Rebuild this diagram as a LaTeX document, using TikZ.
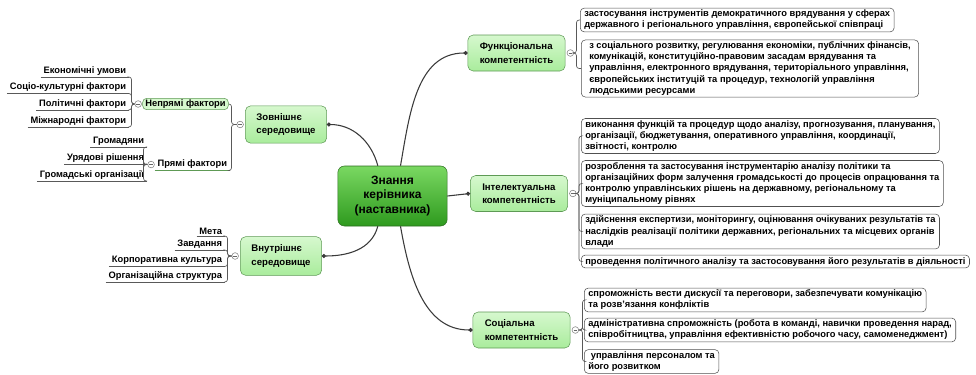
\documentclass[tikz,border=0pt]{standalone}
\usepackage{fontspec}
\setmainfont{Liberation Sans}
\usetikzlibrary{arrows.meta,positioning}

\definecolor{coredark}{HTML}{2E9A1E}
\definecolor{corelight}{HTML}{7AD862}
\definecolor{coreedge}{HTML}{2C6E20}
\definecolor{topicfill}{HTML}{A9EC9C}
\definecolor{topiclight}{HTML}{D6F8CE}
\definecolor{topicedge}{HTML}{5E9A55}
\definecolor{lineclr}{HTML}{3A3A3A}
\definecolor{detailedge}{HTML}{505050}

\begin{document}
\begin{tikzpicture}[
    x=0.75pt, y=-0.75pt,
    font=\bfseries\fontsize{7}{8.3}\selectfont,
    core/.style={draw=coreedge, rounded corners=5pt, top color=corelight, bottom color=coredark,
      minimum width=82pt, minimum height=45pt, align=center, font=\bfseries\fontsize{9}{11.2}\selectfont},
    topic/.style={draw=topicedge, rounded corners=4pt, top color=topiclight, bottom color=topicfill,
      minimum width=73pt, minimum height=27pt, align=left, font=\bfseries\fontsize{7.2}{10}\selectfont},
    subtopic/.style={draw=topicedge, rounded corners=3pt, fill=topiclight, inner xsep=2pt, inner ysep=1pt},
    detail/.style={draw=detailedge, rounded corners=3pt, fill=white, align=left, anchor=west,
      inner xsep=3pt, inner ysep=1.5pt},
    leaf/.style={anchor=south east, inner xsep=2pt, inner ysep=1pt},
    collapse/.style={circle, draw=gray, fill=white, minimum size=5pt, inner sep=0pt,
      path picture={\draw[gray!80!black, line width=0.4pt]
        ([xshift=-1.3pt]path picture bounding box.center) -- ([xshift=1.3pt]path picture bounding box.center);}},
    link/.style={draw=lineclr, line width=0.8pt, -{Circle[length=3pt]}},
    brk/.style={draw=gray!70!black, line width=0.5pt, rounded corners=2pt},
    uline/.style={draw=gray!70!black, line width=0.5pt}
  ]
  \useasboundingbox (0,0) rectangle (976,375);

  % central topic
  \node[core] (ctr) at (392.5,196) {Знання\\керівника\\(наставника)};

  % left side
  \node[topic, minimum width=61pt, minimum height=28pt] (zov) at (286,124.5) {Зовнішнє\\середовище};
  \node[topic, minimum width=61pt, minimum height=29pt] (vnu) at (281,256) {Внутрішнє\\середовище};
  \node[collapse, left=1pt of zov] (zov-c) {};
  \node[collapse, left=1pt of vnu] (vnu-c) {};

  \node[subtopic] (nep) at (185.5,104) {Непрямі фактори};
  \node[collapse, left=0.5pt of nep] (nep-c) {};
  \node[leaf] (pry) at (230,170.5) {Прямі фактори};
  \node[collapse, left=0pt of pry] (pry-c) {};
  \draw[topicedge, line width=0.9pt] (pry.south west) -- (pry.south east);

  \node[leaf] (eko) at (129,77) {Економічні умови};
  \node[leaf] (soc-k) at (129,93.5) {Соціо-культурні фактори};
  \node[leaf] (pol) at (129,110) {Політичні фактори};
  \node[leaf] (mizh) at (129,127) {Міжнародні фактори};

  \node[leaf] (grom) at (147,147) {Громадяни};
  \node[leaf] (ur) at (147,164) {Урядові рішення};
  \node[leaf] (gorg) at (147,181) {Громадські організації};

  \node[leaf] (meta) at (225,236) {Мета};
  \node[leaf] (zav) at (225,250) {Завдання};
  \node[leaf] (korp) at (225,266.5) {Корпоративна культура};
  \node[leaf] (org) at (225,282) {Організаційна структура};

  \foreach \n in {eko,soc-k,pol,mizh,grom,ur,gorg,meta,zav,korp,org}
    \draw[uline] (\n.south west) -- (\n.south east);

  \draw[brk] (zov-c.west) -- ++(-5,0) |- (nep.east);
  \draw[brk] (zov-c.west) -- ++(-5,0) |- (pry.south east);
  \foreach \n in {eko,soc-k,pol,mizh}
    \draw[brk] (nep-c.west) -- ++(-3,0) |- (\n.south east);
  \foreach \n in {grom,ur,gorg}
    \draw[brk] (pry-c.west) -- ++(-4,0) |- (\n.south east);
  \foreach \n in {meta,zav,korp,org}
    \draw[brk] (vnu-c.west) -- ++(-4,0) |- (\n.south east);

  % right side
  \node[topic] (fun) at (516.5,53) {Функціональна\\компетентність};
  \node[topic] (int) at (519,193.5) {Інтелектуальна\\компетентність};
  \node[topic] (soc) at (521.5,330) {Соціальна\\компетентність};
  \node[collapse, right=1pt of fun] (fun-c) {};
  \node[collapse, right=1pt of int] (int-c) {};
  \node[collapse, right=1pt of soc] (soc-c) {};

  \node[detail] (f1) at (580,20) {застосування інструментів демократичного врядування у сферах\\
    державного і регіонального управління, європейської співпраці};
  \node[detail, inner xsep=6pt] (f2) at (581,68.5) {з соціального розвитку, регулювання економіки, публічних фінансів,\\
    комунікацій, конституційно-правовим засадам врядування та\\
    управління, електронного врядування, територіального управління,\\
    європейських інституцій та процедур, технологій управління\\
    людськими ресурсами};

  \node[detail] (i1) at (581,136) {виконання функцій та процедур щодо аналізу, прогнозування, планування,\\
    організації, бюджетування, оперативного управління, координації,\\
    звітності, контролю};
  \node[detail] (i2) at (581,183.5) {розроблення та застосування інструментарію аналізу політики та\\
    організаційних форм залучення громадськості до процесів опрацювання та\\
    контролю управлінських рішень на державному, регіональному та\\
    муніципальному рівнях};
  \node[detail] (i3) at (581,231.5) {здійснення експертизи, моніторингу, оцінювання очікуваних результатів та\\
    наслідків реалізації політики державних, регіональних та місцевих органів\\
    влади};
  \node[detail] (i4) at (581,261.5) {проведення політичного аналізу та застосовування його результатів в діяльності};

  \node[detail] (s1) at (584,300) {спроможність вести дискусії та переговори, забезпечувати комунікацію\\
    та розв'язання конфліктів};
  \node[detail] (s2) at (584,330) {адміністративна спроможність (робота в команді, навички проведення нарад,\\
    співробітництва, управління ефективністю робочого часу, самоменеджмент)};
  \node[detail] (s3) at (584,361.5) {\ управління персоналом та\\
    його розвитком};

  \foreach \n in {f1,f2}
    \draw[brk] (fun-c.east) -- ++(2.5,0) |- (\n.west);
  \foreach \n in {i1,i2,i3,i4}
    \draw[brk] (int-c.east) -- ++(2.5,0) |- (\n.west);
  \foreach \n in {s1,s2,s3}
    \draw[brk] (soc-c.east) -- ++(3.5,0) |- (\n.west);

  % links from the central topic
  \draw[link] ([xshift=-11pt]ctr.north) to[out=105, in=0] (zov.east);
  \draw[link] ([xshift=-11pt]ctr.south) to[out=-105, in=0] (vnu.east);
  \draw[link] ([xshift=6pt]ctr.north) to[out=80, in=180] (fun.west);
  \draw[link] (ctr.east) -- (int.west);
  \draw[link] ([xshift=6pt]ctr.south) to[out=-80, in=180] (soc.west);
\end{tikzpicture}
\end{document}
